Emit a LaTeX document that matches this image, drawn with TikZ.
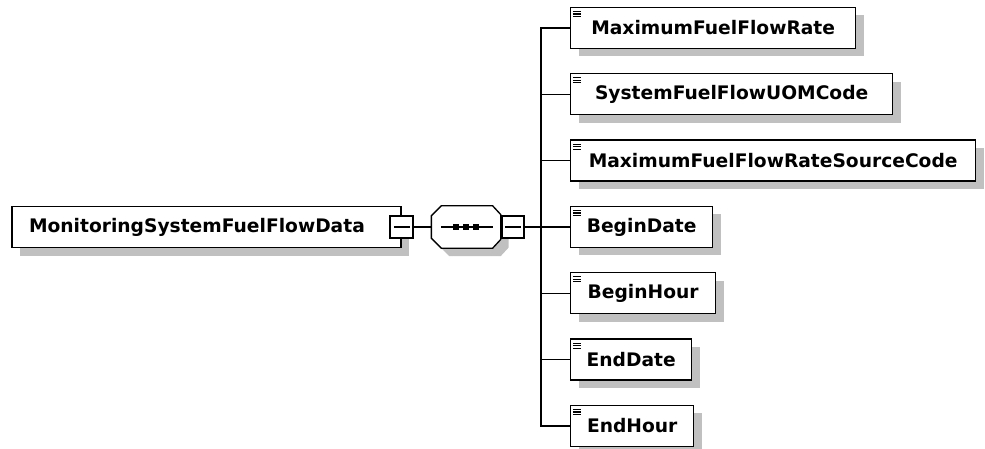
\documentclass[tikz,border=0pt]{standalone}
\usepackage{fontspec}
\setmainfont{DejaVu Sans}
\usetikzlibrary{shadows}
\definecolor{shadowgray}{RGB}{192,192,192}

\begin{document}
\begin{tikzpicture}[x=0.75pt, y=-0.75pt, line width=1pt,
	every node/.style={font=\bfseries\fontsize{14}{16}\selectfont},
	shade/.style={drop shadow={fill=shadowgray, opacity=1, shadow xshift=6pt, shadow yshift=-6pt}},
	box/.style={draw, fill=white, shade, inner xsep=12pt, minimum height=30.75pt},
	elem/.style={box, anchor=west,
		path picture={\foreach \k in {0,1,2} \draw[line width=0.8pt] ([xshift=1.6pt, yshift=-3pt-1.9pt*\k]path picture bounding box.north west) -- ++(5.8pt,0);}},
	minus/.style={draw, fill=white, line width=1.4pt, minimum width=17pt, minimum height=17pt, inner sep=0pt,
		path picture={\draw[line width=0.9pt] ([xshift=2.6pt]path picture bounding box.west) -- ([xshift=-2.6pt]path picture bounding box.east);}},
	seqbox/.style={inner sep=0pt, minimum width=51pt, minimum height=30.75pt},
	dot/.style={fill, inner sep=0pt, minimum size=5pt}]
	\useasboundingbox (0,0) rectangle (985,449);

	\node[box, inner xsep=12.75pt, text width=266.25pt, align=left] (main) at (206.5,227) {MonitoringSystemFuelFlowData};
	\node[minus] (mminus) at (main.east) {};

	% sequence compositor
	\node[seqbox] (seq) at (466,227) {};
	\draw[fill=white, shade] ([xshift=7.5pt]seq.north west) -- ([xshift=-6pt]seq.north east) -- ([yshift=-6.5pt]seq.north east)
		-- ([yshift=6.5pt]seq.south east) -- ([xshift=-6pt]seq.south east) -- ([xshift=7.5pt]seq.south west)
		-- ([yshift=7.5pt]seq.south west) -- ([yshift=-7.5pt]seq.north west) -- cycle;
	\draw ([xshift=7.5pt]seq.west) -- ([xshift=-6pt]seq.east);
	\foreach \d in {-7.5pt, 0pt, 7.5pt}
		\node[dot] at ([xshift=\d]seq.center) {};
	\node[minus, anchor=west] (sminus) at (seq.east) {};
	\coordinate (fork) at (541,227);

	\draw (mminus) -- (seq);
	\draw (sminus) -- (fork);

	\foreach \name/\w [count=\i] in {MaximumFuelFlowRate/213.75, SystemFuelFlowUOMCode/241.5, MaximumFuelFlowRateSourceCode/303.75,
		BeginDate/106.5, BeginHour/108.75, EndDate/89.25, EndHour/92.25}
	{
		\node[elem, minimum width=\w pt] (c\i) at (570, {28+66.33*(\i-1)}) {\name};
		\draw (fork) |- (c\i);
	}
\end{tikzpicture}
\end{document}
